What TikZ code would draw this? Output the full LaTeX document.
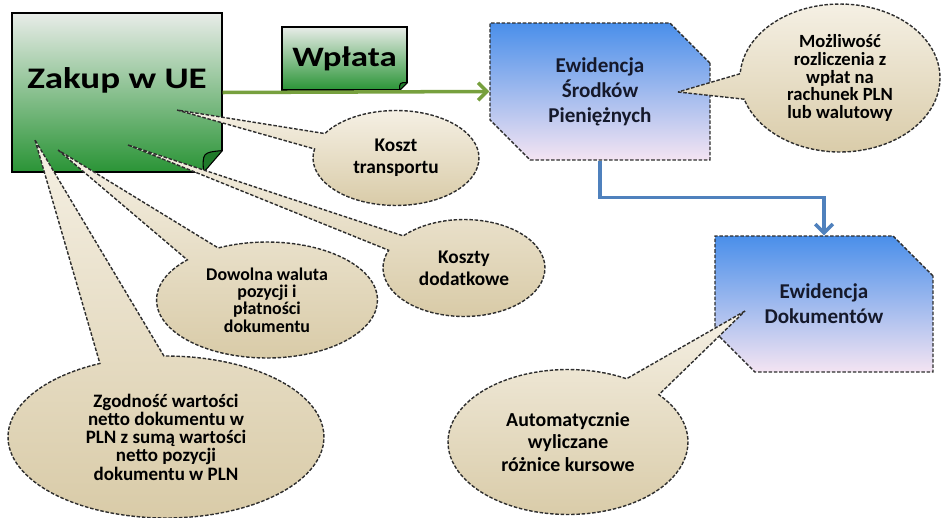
\documentclass[tikz,border=0pt]{standalone}
\usepackage{fontspec}
\setmainfont{Carlito}
\newfontfamily\widefont{Carlito}[FakeStretch=1.24]
\usetikzlibrary{arrows.meta,calc,shapes.misc,shapes.callouts}

\definecolor{zakTop}{HTML}{E8ECE8}
\definecolor{zakBot}{HTML}{2A9436}
\definecolor{zakFold}{HTML}{1F7A2A}
\definecolor{blueTop}{HTML}{4A8FEA}
\definecolor{bluePink}{HTML}{F4E4F2}
\definecolor{noteTop}{HTML}{F5F0E4}
\definecolor{noteBot}{HTML}{D8CAA6}
\definecolor{dashGray}{HTML}{2E2E2E}
\definecolor{arrowGreen}{HTML}{77A03E}
\definecolor{arrowBlue}{HTML}{4F81BD}
\definecolor{inkBlue}{HTML}{15192B}

\begin{document}
\begin{tikzpicture}[x=0.02cm,y=-0.02cm,
  greenbox/.style = {rectangle,draw=black,line width=0.6pt,top color=zakTop,bottom color=zakBot,
                     font=\widefont\bfseries\fontsize{17}{20}\selectfont,inner sep=0pt},
  fold/.style = {draw=black,line width=0.6pt,fill=zakFold,line join=round},
  bluebox/.style = {chamfered rectangle,chamfered rectangle corners={north east,south west},
                    chamfered rectangle xsep=0.4cm,chamfered rectangle ysep=0.4cm,inner sep=0pt,
                    draw=dashGray,line width=0.8pt,dash pattern=on 2pt off 1pt,
                    top color=blueTop,bottom color=bluePink,text=inkBlue,align=center,
                    font=\bfseries\fontsize{12}{14.2}\selectfont},
  note/.style = {ellipse callout,callout pointer arc=20,inner sep=0pt,align=center,
                 draw=dashGray,line width=0.8pt,dash pattern=on 2pt off 1pt,
                 top color=noteTop,bottom color=noteBot,font=\bfseries\fontsize{11}{12.5}\selectfont},
  greenarrow/.style = {draw=arrowGreen,line width=2pt,-{Straight Barb[length=5pt,width=10pt]}},
  bluearrow/.style = {draw=arrowBlue,line width=2pt,-{Straight Barb[length=5pt,width=10pt]}}]
\useasboundingbox (0,0) rectangle (942,517);

% green sheets
\node[greenbox,minimum width=4.2cm,minimum height=3.18cm,text height=0.4cm,text depth=0.55cm] (zakup) at (117,92.5) {Zakup w UE};
\node[greenbox,minimum width=2.5cm,minimum height=1.26cm,font=\widefont\bfseries\fontsize{16}{19}\selectfont] (wplata) at (344.5,58.5) {Wpłata};
\fill[white] ($(zakup.south east)+(0,-22)$) -- ++(2,0) -- ($(zakup.south east)+(2,2)$)
  -- ($(zakup.south east)+(-19,2)$) -- ($(zakup.south east)+(-19,0)$) -- cycle;
\filldraw[fold] ($(zakup.south east)+(0,-22)$) -- ($(zakup.south east)+(-19,0)$)
  .. controls ($(zakup.south east)+(-20,-20)$) .. ($(zakup.south east)+(0,-22)$) -- cycle;
\fill[white] ($(wplata.south east)+(0,-8)$) -- ++(2,0) -- ($(wplata.south east)+(2,2)$)
  -- ($(wplata.south east)+(-8,2)$) -- ($(wplata.south east)+(-8,0)$) -- cycle;
\filldraw[fold] ($(wplata.south east)+(0,-8)$) -- ($(wplata.south east)+(-8,0)$)
  .. controls ($(wplata.south east)+(-8,-8)$) .. ($(wplata.south east)+(0,-8)$) -- cycle;

% blue boxes
\node[bluebox,minimum width=4.4cm,minimum height=2.74cm] (srodki) at (600,91.5) {Ewidencja\\Środków\\Pieniężnych};
\node[bluebox,minimum width=4.36cm,minimum height=2.72cm] (dokumenty) at (824,304) {Ewidencja\\Dokumentów};

% connectors
\draw[greenarrow] (zakup.east) -- (srodki.west);
\draw[bluearrow] (srodki.south) -- ++(0,37) -| (dokumenty.north);

% pointer tips
\coordinate (tipKoszt) at (177,110);
\coordinate (tipDodat) at (128,145);
\coordinate (tipWal) at (58,150);
\coordinate (tipZgod) at (35,140);
\coordinate (tipRozl) at (678,92);
\coordinate (tipKurs) at (745,311);

% callouts
\node[note,minimum width=6.32cm,minimum height=3.24cm,callout pointer arc=24,callout absolute pointer=(tipZgod),
      font=\bfseries\fontsize{10.8}{10.4}\selectfont] (zgodnosc) at (166,437)
  {Zgodność wartości\\netto dokumentu w\\PLN z sumą wartości\\netto pozycji\\dokumentu w PLN};
\node[note,minimum width=4.42cm,minimum height=2.32cm,font=\bfseries\fontsize{10.2}{9.8}\selectfont,callout absolute pointer=(tipWal)] (waluta) at (267,300)
  {Dowolna waluta\\pozycji i\\płatności\\dokumentu};
\node[note,minimum width=3.24cm,minimum height=1.94cm,callout absolute pointer=(tipDodat)] (dodatkowe) at (464,268)
  {Koszty\\dodatkowe};
\node[note,minimum width=3.32cm,minimum height=1.9cm,callout absolute pointer=(tipKoszt)] (transport) at (396,158)
  {Koszt\\transportu};
\node[note,minimum width=4cm,minimum height=2.96cm,font=\bfseries\fontsize{10.6}{10}\selectfont,callout absolute pointer=(tipRozl)] (rozliczenie) at (840,78)
  {Możliwość\\rozliczenia z\\wpłat na\\rachunek PLN\\lub walutowy};
\node[note,minimum width=4.8cm,minimum height=2.9cm,font=\bfseries\fontsize{11.3}{13}\selectfont,callout absolute pointer=(tipKurs)] (kursy) at (568,442)
  {Automatycznie\\wyliczane\\różnice kursowe};
\end{tikzpicture}
\end{document}
